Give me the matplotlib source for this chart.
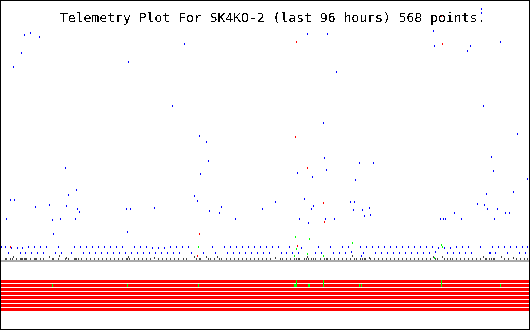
import matplotlib
matplotlib.use("Agg")
import matplotlib.pyplot as plt
from matplotlib.path import Path
from matplotlib.patches import Rectangle

plt.rcParams['text.antialiased'] = False

TITLE = "Telemetry Plot For SK4KO-2 (last 96 hours) 568 points."

# time axis: minutes since start of the window; value axis: raw counts
T_MAX = 5808
V_MAX = 255

# regular (low level) blue channel
blue_base_t = [0, 44, 77, 110, 176, 209, 231, 264, 297, 330, 363, 396, 429, 462, 495,
               594, 627, 660, 770, 803, 869, 902, 935, 968, 1001, 1034, 1067, 1100,
               1133, 1166, 1199, 1232, 1265, 1298, 1331, 1364, 1430, 1463, 1496, 1529,
               1562, 1595, 1628, 1661, 1694, 1727, 1760, 1793, 1826, 1859, 1892, 1925,
               1958, 1991, 2057, 2090, 2222, 2321, 2354, 2453, 2486, 2519, 2552, 2585,
               2618, 2651, 2684, 2717, 2750, 2783, 2816, 2849, 2882, 2915, 2948, 2981,
               3047, 3080, 3135, 3168, 3201, 3267, 3300, 3454, 3487, 3520, 3619, 3652,
               3718, 3751, 3784, 3817, 3850, 3949, 3982, 4015, 4081, 4114, 4147, 4180,
               4213, 4246, 4279, 4312, 4345, 4378, 4411, 4444, 4477, 4510, 4543, 4576,
               4609, 4642, 4675, 4708, 4741, 4774, 4807, 4873, 4906, 4939, 4972, 5005,
               5038, 5071, 5104, 5137, 5170, 5269, 5368, 5379, 5401, 5434, 5467, 5533,
               5566, 5599, 5665, 5698, 5731, 5764, 5786]
blue_base_v = [14, 14, 8, 13, 13, 8, 13, 8, 14, 8, 14, 8, 14, 8, 14,
               8, 14, 8, 8, 14, 14, 8, 14, 8, 14, 8, 14, 8,
               14, 8, 14, 8, 14, 8, 14, 8, 8, 14, 8, 14,
               8, 14, 8, 13, 8, 13, 8, 13, 8, 14, 8, 14,
               8, 14, 14, 8, 8, 14, 8, 14, 8, 14, 8, 14,
               8, 14, 8, 14, 8, 14, 8, 14, 8, 14, 8, 14,
               14, 8, 8, 14, 8, 8, 13, 8, 14, 8, 14, 8,
               8, 14, 8, 14, 9, 14, 8, 14, 14, 8, 14, 8,
               14, 8, 14, 8, 14, 8, 14, 8, 14, 8, 14, 8,
               14, 8, 14, 8, 14, 9, 13, 13, 8, 13, 8, 14,
               8, 14, 8, 14, 8, 14, 8, 8, 14, 8, 14, 14,
               8, 14, 14, 8, 14, 8, 14]

# scattered blue readings
blue_hi_t = [253, 319, 418, 220, 132, 1397, 1881, 5280, 5280, 3366, 3586, 4752, 4763,
             5159, 5126, 5489, 3685, 5302, 3542, 704, 825, 737, 99, 143, 528, 374, 715,
             836, 858, 55, 561, 649, 814, 2178, 2255, 2277, 2189, 2123, 2156, 1375, 1419,
             1683, 2288, 2398, 2420, 2574, 2871, 3014, 3256, 3421, 3553, 3575, 3938, 4092,
             3894, 3333, 3432, 3410, 3278, 3377, 3564, 3663, 3839, 3883, 3872, 3971, 4048,
             3993, 4059, 4829, 4862, 4884, 4983, 5060, 5236, 5313, 5335, 5346, 5456, 5423,
             5544, 5588, 5632, 5390, 5412, 5676, 5786, 572, 1386, 3960, 2013]
blue_hi_v = [226, 228, 224, 208, 194, 199, 155, 252, 248, 227, 227, 230, 215,
             215, 210, 219, 189, 155, 138, 93, 71, 66, 61, 61, 56, 54, 55,
             52, 49, 42, 41, 42, 42, 125, 119, 100, 87, 65, 60, 52, 52,
             53, 50, 48, 54, 42, 52, 59, 88, 84, 103, 91, 98, 98,
             81, 62, 55, 52, 42, 38, 42, 42, 59, 59, 51, 51, 53,
             45, 46, 42, 42, 42, 48, 42, 57, 56, 67, 52, 52, 42,
             48, 48, 69, 104, 90, 127, 82, 27, 29, 5, 217]

red_t = [99, 2178, 2156, 3256, 3245, 4851, 4840, 3234, 3366, 3542, 3553]
red_v = [14, 27, 5, 15, 219, 217, 245, 124, 93, 58, 39]

green_t = [3234, 3388, 3861, 2167, 3245, 3366, 3223, 3542, 4840, 4851, 4763]
green_v = [24, 22, 18, 14, 12, 7, 5, 5, 16, 14, 3]

# low-level dark channel just above the zero line
dark_t = [44, 55, 99, 121, 132, 165, 209, 220, 231, 253, 264, 275, 319, 363, 374,
          385, 429, 462, 528, 561, 572, 627, 638, 704, 715, 737, 803, 814, 825, 847,
          880, 935, 979, 1023, 1067, 1111, 1155, 1199, 1243, 1287, 1331, 1375, 1386,
          1397, 1408, 1463, 1507, 1551, 1595, 1639, 1683, 1727, 1771, 1815, 1859,
          1903, 1947,
          2002, 2035, 2123, 2145, 2178, 2189, 2255, 2277, 2299, 2343, 2376, 2398, 2420,
          2475, 2519, 2563, 2607, 2651, 2695, 2739, 2783, 2827, 2871, 2915, 2959, 3014,
          3069, 3091, 3135, 3179, 3223, 3245, 3267, 3278, 3333, 3355, 3366, 3377, 3410,
          3432, 3454, 3509, 3553, 3575, 3586, 3619, 3663, 3707, 3751, 3795, 3839, 3861,
          3883, 3905, 3949, 3971, 3993, 4004, 4048, 4059, 4103, 4147, 4191, 4235, 4279,
          4323, 4367, 4411, 4455, 4499, 4543, 4587, 4631, 4675, 4719, 4752, 4774, 4796,
          4851, 4873, 4906, 4939, 4961, 5005, 5049, 5093, 5137, 5181, 5225, 5269, 5302,
          5324, 5335, 5368, 5390, 5412, 5423, 5500, 5533, 5577, 5632, 5665, 5709, 5753,
          5786]
dark_v = [2, 2, 2, 2, 4, 2, 2, 2, 2, 2, 2, 2, 2, 2, 2,
          2, 2, 2, 4, 2, 2, 2, 5, 2, 3, 2, 2, 2, 2, 2,
          2, 2, 2, 2, 2, 2, 2, 2, 2, 2, 2, 2, 2,
          4, 2, 2, 2, 2, 2, 2, 3, 2, 2, 2, 2,
          2, 2,
          2, 2, 4, 2, 2, 2, 4, 2, 2, 2, 4, 2, 2,
          2, 2, 2, 2, 2, 2, 2, 2, 2, 2, 2, 2, 3,
          2, 2, 2, 2, 2, 2, 2, 2, 2, 2, 4, 2, 2,
          2, 2, 2, 2, 2, 2, 2, 2, 2, 2, 2, 2, 5,
          2, 2, 2, 2, 2, 2, 3, 2, 2, 2, 2, 2, 2,
          2, 2, 2, 2, 2, 2, 2, 2, 2, 2, 4, 2, 2,
          4, 2, 2, 2, 2, 2, 2, 2, 2, 2, 2, 2, 4,
          2, 2, 2, 2, 2, 2, 4, 2, 2, 3, 2, 2, 2,
          2]

# status bits (8 rows): spans where a bit is set
BIT_ROWS = 8
bit_on_t = [561, 1386, 2167, 3223, 3245, 3377, 3542, 3938, 3960, 4840, 5489]
bit_on_len = [11, 11, 11, 33, 11, 22, 11, 11, 11, 11, 11]
bit_on_row = [1, 1, 1, 1, 0, 1, 0, 1, 1, 0, 1]
bit_on_nrows = [1, 1, 1, 1, 2, 1, 2, 1, 1, 2, 1]

W, H = 530, 330
fig = plt.figure(figsize=(W / 100, H / 100), dpi=100)
fig.patch.set_facecolor('white')

ax = fig.add_axes([1 / W, 69 / H, 528 / W, 255 / H])
ax.set_xlim(0, T_MAX)
ax.set_ylim(0, V_MAX)
ax.axis('off')

ax.axhline(0, color='#aaaaaa', lw=1.44, clip_on=False, antialiased=False, zorder=1)

dot = Path([(-0.5, -1), (0.5, -1), (0.5, 1), (-0.5, 1), (-0.5, -1)],
           [Path.MOVETO, Path.LINETO, Path.LINETO, Path.LINETO, Path.CLOSEPOLY])


def dots(t, v, color, z=3):
    ax.plot(t, v, ls='none', marker=dot, ms=1.44, mew=0, mfc=color,
            antialiased=False, clip_on=False, zorder=z)


dots(dark_t, dark_v, '#444444', z=2)
dots(blue_base_t, blue_base_v, '#0000ff')
dots(blue_hi_t, blue_hi_v, '#0000ff')
dots(red_t, red_v, '#ff0000', z=4)
dots(green_t, green_v, '#00ff00', z=5)

bx = fig.add_axes([1 / W, 18 / H, 528 / W, 32 / H])
bx.set_xlim(0, T_MAX)
bx.set_ylim(BIT_ROWS, 0)
bx.axis('off')
for r in range(BIT_ROWS):
    bx.broken_barh([(0, T_MAX)], (r, 0.75), facecolors='#ff0000',
                   edgecolors='none', antialiased=False)
for t, l, r0, n in zip(bit_on_t, bit_on_len, bit_on_row, bit_on_nrows):
    bx.broken_barh([(t, l)], (r0, n - 0.25), facecolors='#00ff00',
                   edgecolors='none', antialiased=False, zorder=3)

fig.text(59.5 / W, 1 - 22 / H, TITLE, family='DejaVu Sans Mono', fontsize=9.4,
         color='black', ha='left', va='baseline')

fig.add_artist(Rectangle((0, 0), 1, 1, transform=fig.transFigure, fill=False,
                         edgecolor='black', lw=1.44, antialiased=False))

fig.savefig('out.png', dpi=100)
